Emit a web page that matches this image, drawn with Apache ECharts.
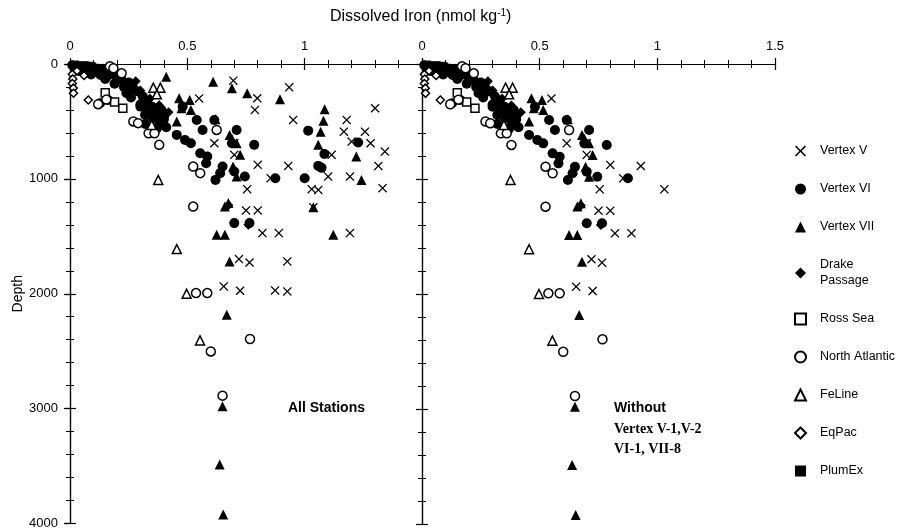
<!DOCTYPE html>
<html><head><meta charset="utf-8">
<script src="https://cdn.jsdelivr.net/npm/echarts@6/dist/echarts.min.js"></script>
<style>html,body{margin:0;padding:0;background:#fff}#c{width:897px;height:530px}</style>
</head><body><div id="c"></div>
<script>
// ---- Data: [dissolved iron (nmol/kg), depth (m)] ----
const xMin = 0, xMax = 1.5, xStep = 0.5;
const yMin = 0, yMax = 4000, yStep = 1000;

// Points shown in both panels
const vertexV = [[0.09,20],[0.55,300],[0.615,690],[0.70,690],[0.70,791],[0.80,878],[0.93,887],[0.855,994],[0.755,1090],[1.03,1090],[0.75,1275],[0.80,1275],[0.82,1472],[0.89,1472],[0.72,1698],[0.765,1728],[0.655,1936],[0.725,1974]];
// Points from Vertex V-1, V-2, VI-1, VII-8 (left panel only)
const vertexVExcluded = [[0.696,145],[0.798,298],[0.788,400],[0.934,203],[0.951,487],[1.30,385],[1.179,487],[1.167,589],[1.257,589],[1.20,675],[1.281,690],[1.342,762],[1.115,791],[1.314,887],[1.10,980],[1.193,980],[1.332,1081],[1.058,1096],[1.037,1248],[1.193,1472],[0.926,1719],[0.874,1971],[0.926,1980]];

const vertexVI = [[0.01,10],[0.03,15],[0.05,22],[0.02,40],[0.06,35],[0.08,25],[0.10,30],[0.12,42],[0.04,60],[0.07,72],[0.11,62],[0.14,55],[0.16,72],[0.09,92],[0.13,96],[0.18,90],[0.20,112],[0.15,130],[0.22,140],[0.25,160],[0.19,172],[0.128,342],[0.163,313],[0.23,200],[0.27,212],[0.29,240],[0.24,252],[0.31,282],[0.26,292],[0.33,322],[0.30,352],[0.35,372],[0.37,400],[0.34,420],[0.39,440],[0.36,462],[0.40,482],[0.38,510],[0.32,522],[0.41,550],[0.37,562],[0.32,443],[0.37,472],[0.39,400],[0.40,458],[0.30,371],[0.33,400],[0.48,371],[0.54,487],[0.615,487],[0.565,574],[0.455,617],[0.49,661],[0.515,690],[0.555,777],[0.585,806],[0.58,864],[0.65,893],[0.64,950],[0.62,1009],[0.71,574],[0.69,690],[0.785,704],[0.745,980],[0.70,1385],[0.765,1385],[0.875,994],[0.70,936]];
const vertexVIExcluded = [[1.015,580],[1.228,684],[1.084,783],[1.058,887],[1.072,904],[1.0,994]];

const vertexVII = [[0.465,298],[0.51,313],[0.475,385],[0.515,400],[0.455,500],[0.62,480],[0.68,617],[0.71,690],[0.725,791],[0.695,893],[0.71,980],[0.66,1240],[0.675,1211],[0.625,1487],[0.66,1487],[0.68,1719],[0.668,2183],[0.65,2980],[0.638,3487],[0.653,3922],[0.69,650]];
const vertexVIIExcluded = [[0.41,110],[0.61,154],[0.69,211],[0.755,255],[0.895,307],[1.085,394],[1.08,493],[1.068,589],[1.058,704],[1.22,806],[1.242,1009],[1.037,1248],[1.122,1487]];

const drakePassage = [[0.04,30],[0.08,50],[0.12,70],[0.17,100],[0.21,125],[0.26,180],[0.30,230],[0.34,300],[0.38,360],[0.42,420],[0.28,150],[0.14,40],[0.35,480],[0.76,1400],[0.675,1230]];
const rossSea = [[0.225,385],[0.19,330],[0.15,250]];
const northAtlantic = [[0.17,20],[0.185,37],[0.22,81],[0.12,350],[0.155,310],[0.27,500],[0.29,515],[0.335,603],[0.36,603],[0.38,704],[0.525,893],[0.555,950],[0.525,1241],[0.625,574],[0.537,1994],[0.585,1994],[0.60,2502],[0.767,2394],[0.65,2887]];
const feLine = [[0.355,206],[0.385,206],[0.37,264],[0.348,530],[0.376,1009],[0.455,1611],[0.497,2000],[0.554,2406]];
const eqPac = [[0.01,90],[0.012,130],[0.01,170],[0.014,210],[0.015,255],[0.078,313],[0.03,60],[0.06,100]];
const plumEx = [[0.02,10],[0.04,25],[0.06,15],[0.10,45],[0.08,20]];

const legendNames = ['Vertex V','Vertex VI','Vertex VII','Drake\nPassage','Ross Sea','North Atlantic','FeLine','EqPac','PlumEx'];

// ---- Styles ----
const xPath = 'path://M0,1 L1,0 L5,4 L9,0 L10,1 L6,5 L10,9 L9,10 L5,6 L1,10 L0,9 L4,5 Z';
const filled = {color:'#000', opacity:1};
const open = {color:'#fff', borderColor:'#000', borderWidth:1.5, opacity:1};
const defs = [
  {name:'Vertex VI', both:vertexVI, left:vertexVIExcluded, symbol:'circle', size:10, style:filled},
  {name:'Vertex VII', both:vertexVII, left:vertexVIIExcluded, symbol:'triangle', size:10, style:filled},
  {name:'Drake\nPassage', both:drakePassage, left:[], symbol:'diamond', size:10, style:filled},
  {name:'PlumEx', both:plumEx, left:[], symbol:'rect', size:9, style:filled},
  {name:'Vertex V', both:vertexV, left:vertexVExcluded, symbol:xPath, size:9, style:filled},
  {name:'Ross Sea', both:rossSea, left:[], symbol:'rect', size:8, style:open},
  {name:'North Atlantic', both:northAtlantic, left:[], symbol:'circle', size:9, style:open},
  {name:'FeLine', both:feLine, left:[], symbol:'triangle', size:9, style:open},
  {name:'EqPac', both:eqPac, left:[], symbol:'diamond', size:8, style:open}
];

const series = [];
defs.forEach(d => {
  series.push({type:'scatter', name:d.name, xAxisIndex:0, yAxisIndex:0, data:d.both.concat(d.left),
    symbol:d.symbol, symbolSize:d.size, itemStyle:d.style, silent:true, animation:false});
  series.push({type:'scatter', name:d.name, xAxisIndex:2, yAxisIndex:2, data:d.both,
    symbol:d.symbol, symbolSize:d.size, itemStyle:d.style, silent:true, animation:false});
});

const font = 'Liberation Sans, Arial, sans-serif';
const lineStyle = {color:'#000', width:1.2};
function xAx(grid, pos, labels, showMax){
  return {type:'value', gridIndex:grid, position:pos, min:xMin, max:xMax, interval:xStep,
    axisLine:{show:true, lineStyle},
    axisTick:{show:true, inside:true, length:6, lineStyle},
    minorTick:{show:true, splitNumber:5, length:4, lineStyle:{color:'#000', width:1}},
    axisLabel:{show:labels, color:'#000', fontSize:13, fontFamily:font, margin:11, showMaxLabel:showMax, formatter: v => String(v)},
    splitLine:{show:false}};
}
function yAx(grid, pos, labels, name){
  return {type:'value', gridIndex:grid, position:pos, inverse:true, min:yMin, max:yMax, interval:yStep,
    name: name || '', nameLocation:'middle', nameGap:43, nameRotate:90,
    nameTextStyle:{color:'#000', fontSize:14, fontFamily:font},
    axisLine:{show:true, lineStyle},
    axisTick:{show:true, inside:true, length:6, lineStyle},
    minorTick:{show:true, splitNumber:5, length:4, lineStyle:{color:'#000', width:1}},
    axisLabel:{show:labels, color:'#000', fontSize:13, fontFamily:font, margin:12, formatter: v => String(v)},
    splitLine:{show:false}};
}
// outward major ticks on the outer left frame line
function yOut(grid, pos){
  return {type:'value', gridIndex:grid, position:pos, inverse:true, min:yMin, max:yMax, interval:yStep,
    axisLine:{show:false}, axisTick:{show:true, inside:false, length:5, lineStyle},
    axisLabel:{show:false}, splitLine:{show:false}};
}

const option = {
  backgroundColor:'#fff',
  animation:false,
  grid:[{left:70, top:64, width:352, height:460},{left:422, top:64, width:353, height:460}],
  xAxis:[xAx(0,'top',true,false), xAx(0,'bottom',false,false), xAx(1,'top',true,true), xAx(1,'bottom',false,false)],
  yAxis:[yAx(0,'left',true,'Depth'), yAx(0,'right',false), yAx(1,'left',false), yAx(1,'right',false), yOut(0,'left')],
  legend:{data:legendNames, orient:'vertical', left:789, top:138, itemGap:22, itemWidth:11, itemHeight:11,
    textStyle:{color:'#000', fontSize:12.5, fontFamily:font, lineHeight:16, padding:[0,0,0,9]}, selectedMode:false},
  graphic:[
    {type:'text', left:330, top:8, style:{
      text:'{a|Dissolved Iron (nmol kg}{s|-1}{a|)}',
      rich:{a:{fontSize:16, fontFamily:font, fill:'#000'}, s:{fontSize:10, fontFamily:font, fill:'#000', verticalAlign:'top', padding:[0,0,8,0]}}}},
    {type:'text', left:288, top:401, style:{text:'All Stations', fontSize:14, fontWeight:'bold', fontFamily:font, fill:'#000'}},
    {type:'text', left:614, top:401, style:{text:'Without', fontSize:14, fontWeight:'bold', fontFamily:font, fill:'#000'}},
    {type:'text', left:614, top:422, style:{text:'Vertex V-1,V-2', fontSize:14, fontWeight:'bold', fontFamily:'Liberation Serif, Times New Roman, serif', fill:'#000'}},
    {type:'text', left:614, top:442, style:{text:'VI-1, VII-8', fontSize:14, fontWeight:'bold', fontFamily:'Liberation Serif, Times New Roman, serif', fill:'#000'}}
  ],
  series
};
const chart = echarts.init(document.getElementById('c'), null, {renderer:'canvas'});
chart.setOption(option);
</script>
</body></html>
